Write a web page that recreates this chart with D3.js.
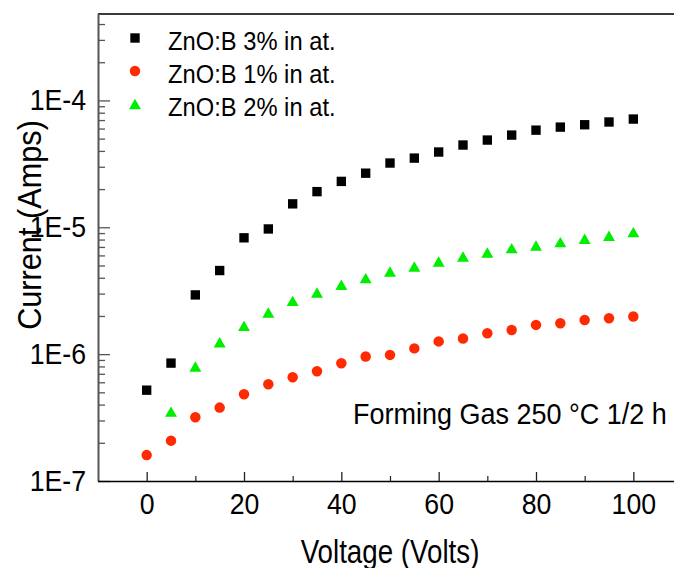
<!DOCTYPE html>
<html><head><meta charset="utf-8">
<script src="https://cdn.jsdelivr.net/npm/d3@7"></script>
<style>body{margin:0;background:#fff;overflow:hidden} svg{display:block}</style>
</head><body>
<svg id="c" width="674" height="568"></svg>
<script>
// ---- data ----
const voltage3 = [0,5,10,15,20,25,30,35,40,45,50,55,60,65,70,75,80,85,90,95,100];
const current3 = [5.2e-7,8.5e-7,2.93e-6,4.56e-6,8.26e-6,9.7e-6,1.53e-5,1.91e-5,2.30e-5,2.67e-5,3.21e-5,3.51e-5,3.92e-5,4.45e-5,4.87e-5,5.33e-5,5.83e-5,6.16e-5,6.43e-5,6.76e-5,7.13e-5];
const voltage1 = [0,5,10,15,20,25,30,35,40,45,50,55,60,65,70,75,80,85,90,95,100];
const current1 = [1.60e-7,2.08e-7,3.18e-7,3.79e-7,4.83e-7,5.79e-7,6.58e-7,7.33e-7,8.48e-7,9.57e-7,9.86e-7,1.11e-6,1.26e-6,1.33e-6,1.46e-6,1.55e-6,1.70e-6,1.75e-6,1.86e-6,1.92e-6,1.98e-6];
const voltage2 = [5,10,15,20,25,30,35,40,45,50,55,60,65,70,75,80,85,90,95,100];
const current2 = [3.52e-7,7.98e-7,1.24e-6,1.67e-6,2.13e-6,2.63e-6,3.06e-6,3.52e-6,3.97e-6,4.48e-6,4.90e-6,5.37e-6,5.88e-6,6.32e-6,6.85e-6,7.18e-6,7.64e-6,8.11e-6,8.57e-6,9.16e-6];
const seriesNames = ["ZnO:B 3% in at.", "ZnO:B 1% in at.", "ZnO:B 2% in at."];
const xTicks = [0,20,40,60,80,100];
const xMinorTicks = [10,30,50,70,90];
const yTicks = [1e-7,1e-6,1e-5,1e-4];
const yTickLabels = ["1E-7","1E-6","1E-5","1E-4"];
const xTitle = "Voltage (Volts)";
const yTitle = "Current (Amps)";
const note = "Forming Gas 250 °C 1/2 h";

const FONT = "'Liberation Sans', Arial, Helvetica, sans-serif";
const svg = d3.select("#c");
const L = 98, R = 682, T = 14, B = 481;
const x = d3.scaleLinear().domain([-10,110]).range([L,R]);
const y = d3.scaleLog().domain([1e-7,4.8e-4]).range([B,T]);

// minor y ticks 2..9 per decade
const yMinor = [];
for (let e=-7;e<=-4;e++) for (let m=2;m<=9;m++){const v=m*Math.pow(10,e); if(v<4.8e-4) yMinor.push(v);}

// top border
svg.append("line").attr("x1",L).attr("x2",674).attr("y1",T).attr("y2",T)
  .attr("stroke","#3a3a3a").attr("stroke-width",2);

// left axis minor
const gLm = svg.append("g").attr("transform",`translate(${L},0)`)
  .call(d3.axisLeft(y).tickValues(yMinor).tickSizeInner(-7).tickSizeOuter(0).tickFormat(""));
gLm.select(".domain").remove();
gLm.selectAll("line").attr("stroke","#555").attr("stroke-width",1.3);
// left axis major
const gL = svg.append("g").attr("transform",`translate(${L},0)`)
  .call(d3.axisLeft(y).tickValues(yTicks).tickSizeInner(-12).tickSizeOuter(0).tickPadding(12)
    .tickFormat((d,i)=>yTickLabels[i]));
gL.select(".domain").attr("stroke","#555").attr("stroke-width",2).attr("d",`M0.5,${T}V${B}`);
gL.selectAll("line").attr("stroke","#555").attr("stroke-width",1.3);
gL.selectAll("text").attr("font-family",FONT).attr("font-size",29).attr("fill","#000")
  .attr("x",-12/0.92).attr("transform","scale(0.92,1)");

// bottom axis minor
const gBm = svg.append("g").attr("transform",`translate(0,${B})`)
  .call(d3.axisBottom(x).tickValues(xMinorTicks).tickSizeInner(-5).tickSizeOuter(0).tickFormat(""));
gBm.select(".domain").remove();
gBm.selectAll("line").attr("stroke","#222").attr("stroke-width",1.2);
// bottom axis major
const gB = svg.append("g").attr("transform",`translate(0,${B})`)
  .call(d3.axisBottom(x).tickValues(xTicks).tickSizeInner(-9).tickSizeOuter(0).tickPadding(12));
gB.select(".domain").attr("stroke","#000").attr("stroke-width",1.6).attr("d",`M${L},0.5H674`);
gB.selectAll("line").attr("stroke","#222").attr("stroke-width",1.3);
gB.selectAll("text").attr("font-family",FONT).attr("font-size",29).attr("fill","#000")
  .attr("transform","scale(0.92,1)");

// series
const series = [
  {v:voltage3, c:current3, color:"#000000", sym:d3.symbolSquare, size:88, dy:0},
  {v:voltage1, c:current1, color:"#ff2a00", sym:d3.symbolCircle, size:86, dy:0},
  {v:voltage2, c:current2, color:"#00ee00", sym:d3.symbolTriangle, size:62, dy:1.7}
];
series.forEach(s=>{
  const path = d3.symbol().type(s.sym).size(s.size)();
  svg.append("g").selectAll("path").data(s.v.map((v,i)=>[v,s.c[i]])).join("path")
    .attr("d",path).attr("fill",s.color)
    .attr("transform",d=>`translate(${x(d[0])},${y(d[1]) + s.dy})`);
});

// legend
const legY = [38,71,104];
[0,1,2].forEach((si,i)=>{
  const s = series[si];
  svg.append("path").attr("d",d3.symbol().type(s.sym).size(s.size)()).attr("fill",s.color)
    .attr("transform",`translate(135,${legY[i] + s.dy})`);
  svg.append("text").attr("transform",`translate(168,${legY[i]+12}) scale(0.95,1)`)
    .attr("font-family",FONT).attr("font-size",25).attr("fill","#000").text(seriesNames[si]);
});

// annotation
svg.append("text").attr("transform","translate(353,424) scale(0.9,1)")
  .attr("font-family",FONT).attr("font-size",30).attr("fill","#000").text(note);

// axis titles
svg.append("text").attr("transform",`translate(${x(50)},563) scale(0.84,1)`)
  .attr("text-anchor","middle").attr("font-family",FONT).attr("font-size",33).attr("fill","#000").text(xTitle);
svg.append("text").attr("transform","translate(41,225) scale(1,0.93) rotate(-90)")
  .attr("text-anchor","middle").attr("font-family",FONT).attr("font-size",33).attr("fill","#000").text(yTitle);
</script>
</body></html>
